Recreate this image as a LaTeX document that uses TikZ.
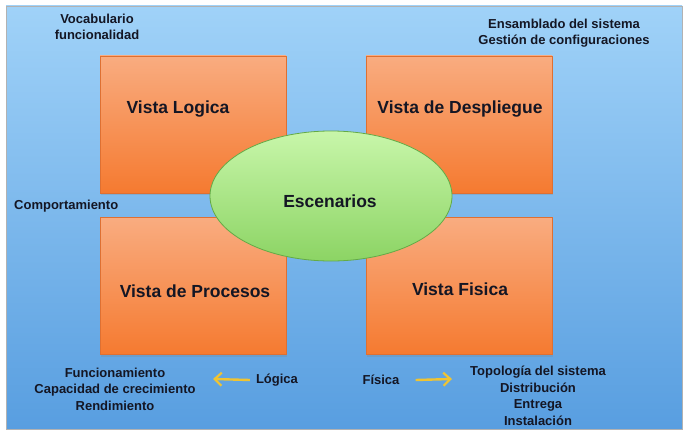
\documentclass[tikz,border=0pt]{standalone}
\usepackage{fontspec}
\setmainfont{Liberation Sans}
\usetikzlibrary{shadows,shapes.geometric,arrows.meta}
\definecolor{skytop}{RGB}{160,210,248}
\definecolor{skybot}{RGB}{88,158,224}
\definecolor{boxtop}{RGB}{249,172,128}
\definecolor{boxbot}{RGB}{245,122,48}
\definecolor{boxline}{RGB}{222,112,50}
\definecolor{eltop}{RGB}{200,246,170}
\definecolor{elbot}{RGB}{140,212,100}
\definecolor{elline}{RGB}{100,170,70}
\definecolor{arrowyel}{RGB}{240,196,50}
\definecolor{tinta}{RGB}{20,22,36}
\tikzset{
  vista/.style={draw=boxline, line width=.6pt, top color=boxtop, bottom color=boxbot,
    minimum width=186pt, minimum height=137pt, inner sep=0pt,
    drop shadow={shadow xshift=1pt, shadow yshift=-2pt, opacity=.25}},
  titulo/.style={text=tinta, font=\fontsize{17.5}{20}\selectfont\bfseries, inner sep=0pt},
  nota/.style={text=tinta, align=center, font=\fontsize{13}{16.5}\selectfont\bfseries, inner sep=0pt},
  flecha/.style={arrowyel, line width=2.4pt, -{Straight Barb[length=7pt,width=13pt,line width=2.2pt]}}
}
\begin{document}
\begin{tikzpicture}[x=1pt, y=-1pt]
    \useasboundingbox (0,0) rectangle (690,436);
    \fill[white] (0,0) rectangle (690,436);
    \draw[gray!60, line width=.6pt, top color=skytop, bottom color=skybot] (6,6) rectangle (682,429);
    % cuatro vistas
    \node (logica) at (193,124.5) [vista] {};
    \node (logtit) at (178,109) [titulo] {Vista Logica};
    \node (despliegue) at (459,124.5) [vista] {};
    \node (destit) at (460,109) [titulo] {Vista de Despliegue};
    \node (procesos) at (193,286) [vista] {};
    \node (protit) at (195,291) [titulo] {Vista de Procesos};
    \node (fisica) at (459,286) [vista] {};
    \node (fistit) at (460,289) [titulo] {Vista Fisica};
    % escenarios
    \node (escenarios) at (331,196) [ellipse, draw=elline, line width=.8pt, top color=eltop, bottom color=elbot,
      minimum width=242pt, minimum height=130pt, inner sep=0pt] {};
    \node (esctit) at (330,201) [titulo] {Escenarios};
    % textos
    \node (vocab) at (97,27) [nota] {Vocabulario\\funcionalidad};
    \node (ensamblado) at (564,33) [nota] {Ensamblado del sistema\\Gestión de configuraciones};
    \node (comport) at (14,206) [nota, anchor=west] {Comportamiento};
    \node (funcion) at (115,389) [nota] {Funcionamiento\\Capacidad de crecimiento\\Rendimiento};
    \node (logtxt) at (277,380) [nota] {Lógica};
    \node (fistxt) at (381,380) [nota] {Física};
    \node (topo) at (538,396) [nota] {Topología del sistema\\Distribución\\Entrega\\Instalación};
    \coordinate (izq) at (213,379);
    \coordinate (der) at (452,379);
    \draw[flecha] (logtxt.west) ++(-6,0) -- (izq);
    \draw[flecha] (fistxt.east) ++(16,0) -- (der);
  \end{tikzpicture}
\end{document}
